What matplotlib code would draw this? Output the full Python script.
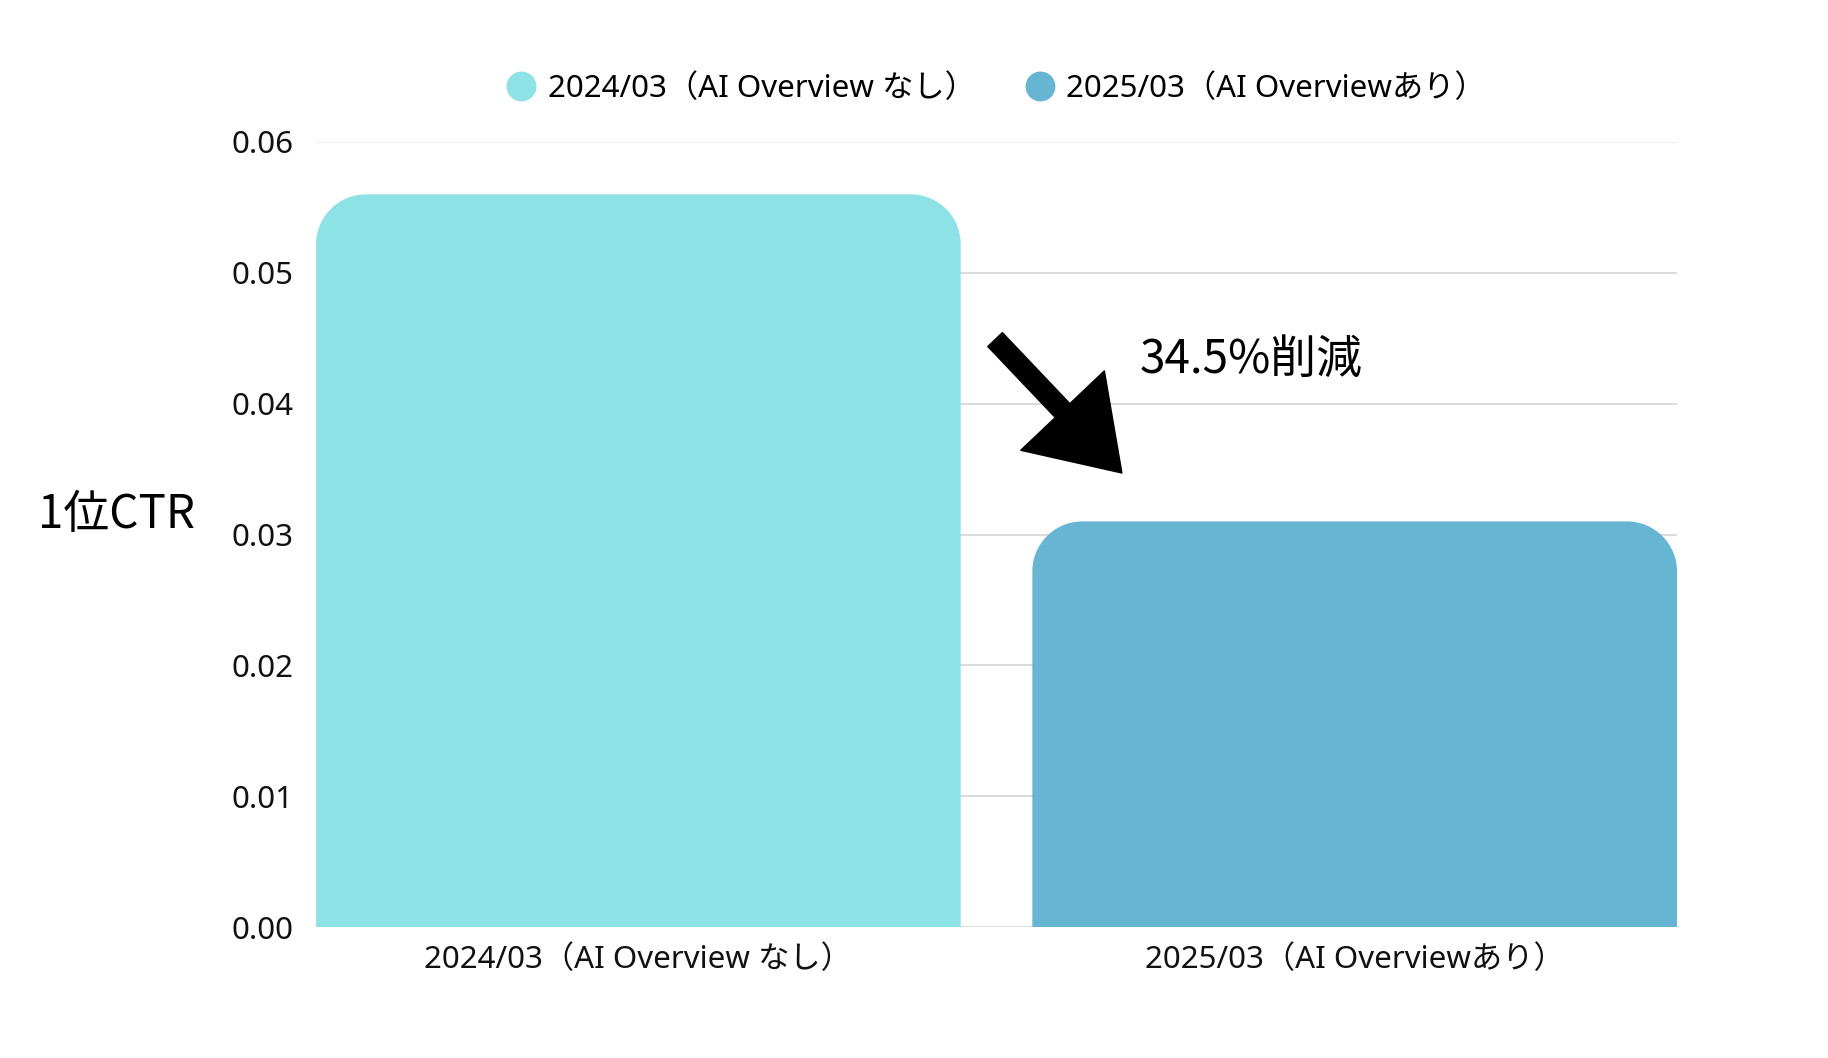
import numpy as np
import matplotlib
matplotlib.use("Agg")
import matplotlib.pyplot as plt
from matplotlib.path import Path
from matplotlib.patches import PathPatch
from matplotlib.lines import Line2D

plt.rcParams["font.family"] = ["Noto Sans", "Noto Sans CJK JP", "DejaVu Sans"]
BIG_FONT = ["Noto Sans CJK JP", "DejaVu Sans"]

# データ
categories = ["2024/03（AI Overview なし）", "2025/03（AI Overviewあり）"]
ctr_values = [0.056, 0.031]
bar_colors = ["#8de2e6", "#66b5d3"]
y_ticks = [0.00, 0.01, 0.02, 0.03, 0.04, 0.05, 0.06]
y_label = "1位CTR"
note_text = "34.5%削減"

# 注釈の位置（データ座標）
arrow_tail = (0.498, 0.0449)
arrow_tip = (0.675, 0.0347)
note_pos = (0.700, 0.0434)

fig = plt.figure(figsize=(18.28, 10.58), dpi=100)
ax = fig.add_axes([0.1729, 0.1238, 0.9174 - 0.1729, 0.8658 - 0.1238])

x = np.arange(len(categories))
bars = ax.bar(x, ctr_values, width=0.9, color=bar_colors, zorder=2)
ax.set_xlim(-0.45, len(categories) - 0.55)
ax.set_ylim(0, 0.06)


def round_top(ax, rect, radius_px):
    # 上側の角だけ丸めたバーに置き換える
    x0, y0 = rect.get_x(), rect.get_y()
    x1, y1 = x0 + rect.get_width(), y0 + rect.get_height()
    p0 = ax.transData.transform((0, 0))
    p1 = ax.transData.transform((1, 1))
    rx = radius_px / (p1[0] - p0[0])
    ry = radius_px / (p1[1] - p0[1])
    k = 0.5523
    verts = [
        (x0, y0), (x0, y1 - ry),
        (x0, y1 - ry + k * ry), (x0 + rx - k * rx, y1), (x0 + rx, y1),
        (x1 - rx, y1),
        (x1 - rx + k * rx, y1), (x1, y1 - ry + k * ry), (x1, y1 - ry),
        (x1, y0), (x0, y0),
    ]
    codes = [Path.MOVETO, Path.LINETO,
             Path.CURVE4, Path.CURVE4, Path.CURVE4,
             Path.LINETO,
             Path.CURVE4, Path.CURVE4, Path.CURVE4,
             Path.LINETO, Path.CLOSEPOLY]
    patch = PathPatch(Path(verts, codes), facecolor=rect.get_facecolor(),
                      edgecolor="none", zorder=2)
    rect.set_visible(False)
    ax.add_patch(patch)


for b in bars:
    round_top(ax, b, 50)

# グリッド
for t in y_ticks:
    c = "#ececec" if t == y_ticks[-1] else "#d4d4d4"
    ax.axhline(t, color=c, linewidth=1.2, zorder=1)

for s in ax.spines.values():
    s.set_visible(False)

ax.set_yticks(y_ticks)
ax.set_yticklabels([f"{t:.2f}" for t in y_ticks])
ax.set_xticks(x)
ax.set_xticklabels(categories)
ax.tick_params(axis="y", length=0, pad=16, labelsize=22.5, labelcolor="#111111")
ax.tick_params(axis="x", length=0, pad=13, labelsize=22.5, labelcolor="#111111")
for lbl in ax.get_xticklabels():
    lbl.set_x(lbl.get_position()[0])

ax.set_ylabel(y_label, rotation=0, fontsize=33, ha="center", va="center", family=BIG_FONT)
ax.yaxis.set_label_coords(-0.147, 0.525)

# 凡例
handles = [Line2D([], [], linestyle="none", marker="o", markersize=21.5,
                  markerfacecolor=c, markeredgecolor="none") for c in bar_colors]
ax.legend(handles, categories, loc="center", bbox_to_anchor=(0.5, 1.068),
          ncol=2, frameon=False, fontsize=22.5, handletextpad=0.4,
          columnspacing=1.6, handlelength=0.9)

# 矢印と注記
ax.annotate("", xy=arrow_tip, xytext=arrow_tail,
            arrowprops=dict(arrowstyle="simple,head_length=6.2,head_width=8.3,tail_width=1.45",
                            mutation_scale=10, color="black", shrinkA=0, shrinkB=0),
            zorder=3)
ax.text(note_pos[0], note_pos[1], note_text, fontsize=33, ha="left", va="center",
        family=BIG_FONT, zorder=3)

fig.savefig("out.png", dpi=100, facecolor="white")
